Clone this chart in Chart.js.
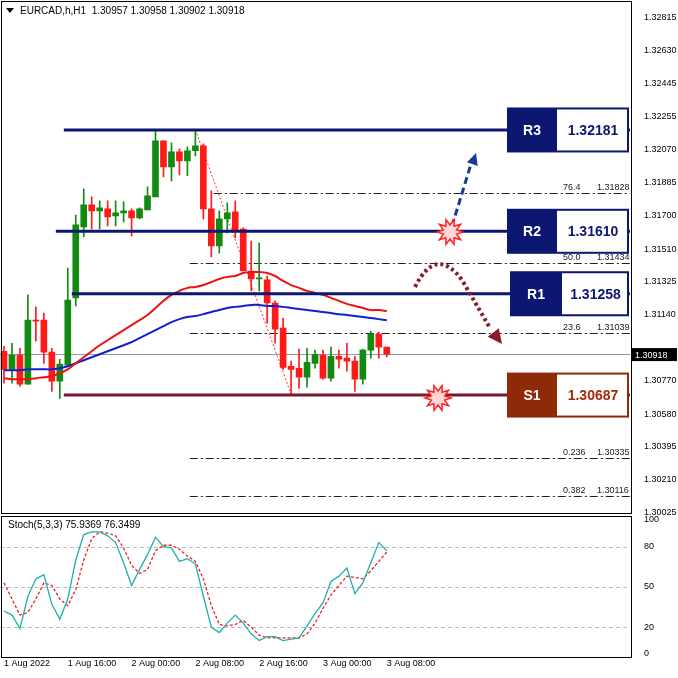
<!DOCTYPE html>
<html><head><meta charset="utf-8">
<script src="https://cdn.jsdelivr.net/npm/chart.js@4.4.1/dist/chart.umd.min.js"></script>
<style>
html,body{margin:0;padding:0;background:#fff;width:678px;height:678px;overflow:hidden;position:relative}
#w1{position:absolute;left:0;top:-6px;width:678px;height:531px}
#w2{position:absolute;left:0;top:507px;width:678px;height:166px}
#frame{position:absolute;left:1px;top:1px;width:629px;height:511px;border:1px solid #000;pointer-events:none}
#frame2{position:absolute;left:1px;top:516px;width:629px;height:140px;border:1px solid #000;pointer-events:none}
#gap{position:absolute;left:0;top:513px;width:632px;height:3px;background:#fff}
</style></head><body>
<div id="w1"><canvas id="c1" width="678" height="531"></canvas></div>
<div id="gap"></div>
<div id="w2"><canvas id="c2" width="678" height="166"></canvas></div>
<div id="frame"></div><div id="frame2"></div>
<script>
const opens=[1.30934,1.30832,1.30912,1.30748,1.31109,1.31109,1.30929,1.30765,1.30855,1.31235,1.31635,1.31759,1.31725,1.31736,1.31697,1.31714,1.31725,1.31685,1.31731,1.31804,1.32120,1.31973,1.32058,1.32007,1.32064,1.32092,1.31736,1.31527,1.31680,1.31719,1.31623,1.31386,1.31341,1.31336,1.31206,1.31064,1.30849,1.30838,1.30788,1.30866,1.30912,1.30782,1.30906,1.30895,1.30878,1.30776,1.30940,1.31030,1.30957];
const highs=[1.30962,1.30979,1.30951,1.31252,1.31184,1.31149,1.30951,1.30889,1.31403,1.31702,1.31849,1.31804,1.31781,1.31781,1.31781,1.31776,1.31736,1.31742,1.31860,1.32177,1.32120,1.32109,1.32075,1.32086,1.32182,1.32103,1.31838,1.31725,1.31770,1.31781,1.31629,1.31555,1.31543,1.31358,1.31218,1.31121,1.30878,1.30946,1.30951,1.30940,1.30940,1.30957,1.30940,1.30979,1.30906,1.30946,1.31047,1.31042,1.30958];
const lows=[1.30754,1.30754,1.30737,1.30748,1.30991,1.30866,1.30708,1.30668,1.30855,1.31189,1.31578,1.31623,1.31623,1.31640,1.31640,1.31663,1.31584,1.31680,1.31731,1.31804,1.31917,1.31894,1.31928,1.31923,1.32035,1.31680,1.31465,1.31488,1.31601,1.31572,1.31386,1.31274,1.31274,1.31092,1.30979,1.30832,1.30691,1.30725,1.30731,1.30838,1.30776,1.30765,1.30838,1.30821,1.30708,1.30748,1.30895,1.30895,1.30902];
const closes=[1.30832,1.30912,1.30748,1.31109,1.31104,1.30929,1.30765,1.30861,1.31223,1.31646,1.31759,1.31725,1.31742,1.31691,1.31714,1.31725,1.31685,1.31736,1.31810,1.32120,1.31973,1.32058,1.32007,1.32064,1.32092,1.31736,1.31527,1.31680,1.31714,1.31612,1.31386,1.31341,1.31347,1.31206,1.31058,1.30843,1.30832,1.30788,1.30872,1.30917,1.30782,1.30906,1.30889,1.30878,1.30776,1.30940,1.31030,1.30957,1.30918];
const maRed=[1.30782,1.30776,1.30776,1.30776,1.30782,1.30788,1.30793,1.30810,1.30832,1.30866,1.30900,1.30934,1.30968,1.30996,1.31025,1.31053,1.31081,1.31109,1.31138,1.31178,1.31218,1.31252,1.31274,1.31291,1.31296,1.31307,1.31324,1.31341,1.31353,1.31358,1.31375,1.31380,1.31380,1.31375,1.31358,1.31330,1.31307,1.31291,1.31274,1.31263,1.31252,1.31235,1.31218,1.31201,1.31189,1.31178,1.31166,1.31166,1.31161];
const maBlue=[1.30827,1.30827,1.30827,1.30832,1.30832,1.30832,1.30832,1.30838,1.30849,1.30866,1.30883,1.30900,1.30917,1.30934,1.30951,1.30968,1.30985,1.31008,1.31030,1.31053,1.31075,1.31098,1.31115,1.31127,1.31132,1.31143,1.31155,1.31166,1.31178,1.31184,1.31189,1.31195,1.31195,1.31189,1.31189,1.31184,1.31178,1.31172,1.31166,1.31161,1.31155,1.31149,1.31143,1.31138,1.31132,1.31127,1.31121,1.31115,1.31109];
const stochMain=[32,29,19,43,56,59,37,26,41,70,89,91,91,88,83,68,51,63,74,87,80,79,69,71,67,43,20,16,23,29,23,15,10,13,13,10,11,12,21,30,38,54,58,64,45,53,68,83,77];
const stochSignal=[53,41,29,31,41,53,51,41,36,48,70,86,91,90,88,79,66,60,63,77,81,81,78,73,69,56,36,22,21,22,25,20,14,12,12,12,12,12,15,23,34,44,51,58,57,56,62,69,76];
const timeLabels=["1 Aug 2022","1 Aug 16:00","2 Aug 00:00","2 Aug 08:00","2 Aug 16:00","3 Aug 00:00","3 Aug 08:00"];
const priceTicks=[1.32815,1.32630,1.32445,1.32255,1.32070,1.31885,1.31700,1.31510,1.31325,1.31140,1.30955,1.30770,1.30580,1.30395,1.30210,1.30025];
const stochTicks=[100,80,50,20,0];
const levelNames=["R3","R2","R1","S1"];
const levelValues=[1.32181,1.31610,1.31258,1.30687];
const levelStart=[7.5,6.5,8.5,7.5];
const fibNames=["76.4","50.0","23.6","0.236","0.382"];
const fibValues=[1.31828,1.31434,1.31039,1.30335,1.30116];
const fibStart=[26.3,23.3,23.3,23.3,23.3];
const lastPrice=1.30918;
const header="EURCAD,h,H1  1.30957 1.30958 1.30902 1.30918";

const N=79, OFF=6;
const labels=[];for(let i=0;i<N;i++){labels.push(i%8===0&&i/8<timeLabels.length?timeLabels[i/8]:"");}
const GREEN="#128a12",RED="#ff1a1a",NAVY="#0b1770",BROWN="#8e2a08";
const FONT="Liberation Sans";
const candleColors=opens.map((o,i)=>closes[i]>=o?GREEN:RED);
const wick=lows.map((l,i)=>[l,highs[i]]);
const body=opens.map((o,i)=>[o,closes[i]]);

function star(ctx,x,y){ctx.save();ctx.beginPath();const n=10;for(let i=0;i<2*n;i++){const r=i%2?7:13;const a=i*Math.PI/n;ctx.lineTo(x+r*Math.cos(a),y+r*Math.sin(a));}ctx.closePath();ctx.fillStyle="#ffd6d6";ctx.fill();ctx.strokeStyle="#ff2020";ctx.lineWidth=1.5;ctx.stroke();ctx.restore();}
function arrowHead(ctx,x1,y1,x2,y2,size,color){const a=Math.atan2(y2-y1,x2-x1);ctx.save();ctx.fillStyle=color;ctx.beginPath();ctx.moveTo(x2,y2);ctx.lineTo(x2-size*Math.cos(a-0.45),y2-size*Math.sin(a-0.45));ctx.lineTo(x2-size*Math.cos(a+0.45),y2-size*Math.sin(a+0.45));ctx.closePath();ctx.fill();ctx.restore();}

const overlay={id:'overlay',
 beforeDatasetsDraw(ch){const ctx=ch.ctx,ys=ch.scales.y,xs=ch.scales.x,ca=ch.chartArea;
  ctx.save();
  const py=Math.round(ys.getPixelForValue(lastPrice))+0.5;
  ctx.strokeStyle="#8a9aa8";ctx.lineWidth=1;ctx.beginPath();ctx.moveTo(ca.left,py);ctx.lineTo(ca.right,py);ctx.stroke();
  fibValues.forEach((v,i)=>{const y=Math.round(ys.getPixelForValue(v))+0.5;ctx.strokeStyle="#222";ctx.lineWidth=1;ctx.setLineDash([8,3,2,3]);ctx.beginPath();ctx.moveTo(xs.getPixelForValue(fibStart[i]),y);ctx.lineTo(ca.right,y);ctx.stroke();ctx.setLineDash([]);
   ctx.fillStyle="#222";ctx.font="9px "+FONT;ctx.textBaseline="bottom";ctx.textAlign="left";ctx.fillText(fibNames[i],563,y-1);ctx.fillText(fibValues[i].toFixed(5),597,y-1);});
  ctx.strokeStyle="#ff3030";ctx.lineWidth=1;ctx.setLineDash([2,2]);ctx.beginPath();ctx.moveTo(xs.getPixelForValue(24),ys.getPixelForValue(highs[24]));ctx.lineTo(xs.getPixelForValue(36),ys.getPixelForValue(lows[36]));ctx.stroke();ctx.setLineDash([]);
  ctx.restore();},
 afterDatasetsDraw(ch){const ctx=ch.ctx,ys=ch.scales.y,xs=ch.scales.x,ca=ch.chartArea;
  ctx.save();
  levelValues.forEach((v,i)=>{const y=ys.getPixelForValue(v);ctx.strokeStyle=i===3?"#7a1830":NAVY;ctx.lineWidth=3;ctx.beginPath();ctx.moveTo(xs.getPixelForValue(levelStart[i]),y);ctx.lineTo(ca.right,y);ctx.stroke();});
  ctx.save();ctx.translate(0,OFF);
  ctx.strokeStyle="#1a3a9a";ctx.lineWidth=3;ctx.setLineDash([7,4]);ctx.beginPath();ctx.moveTo(452,226);ctx.lineTo(471,164);ctx.stroke();ctx.setLineDash([]);arrowHead(ctx,452,226,476,153,13,"#1a3a9a");
  ctx.strokeStyle="#8b1a2a";ctx.lineWidth=4;ctx.setLineDash([3,3]);ctx.beginPath();ctx.moveTo(415,287);ctx.quadraticCurveTo(436,245,462,280);ctx.lineTo(490,328);ctx.stroke();ctx.setLineDash([]);arrowHead(ctx,480,315,502,344,16,"#8b1a2a");
  star(ctx,450,232);star(ctx,438,398);
  ctx.restore();
  levelValues.forEach((v,i)=>{const y=ys.getPixelForValue(v);const isS=i===3;const col=isS?BROWN:NAVY;const x0=(i===2?510:507),xm=(i===2?562:557),x1=629;const top=y-22.5,h=45;
   ctx.fillStyle=col;ctx.fillRect(x0,top,x1-x0,h);ctx.fillStyle="#fff";ctx.fillRect(xm,top+2,x1-xm-2,h-4);
   ctx.font="bold 14px "+FONT;ctx.textBaseline="middle";ctx.textAlign="center";ctx.fillStyle="#fff";ctx.fillText(levelNames[i],(x0+xm)/2,top+h/2+1);
   ctx.fillStyle=isS?"#a52a08":NAVY;ctx.fillText(v.toFixed(5),(xm+x1)/2,top+h/2+1);});
  const py=ys.getPixelForValue(lastPrice);ctx.fillStyle="#000";ctx.fillRect(632,py-6,45,13);ctx.fillStyle="#fff";ctx.font="9px "+FONT;ctx.textAlign="left";ctx.textBaseline="middle";ctx.fillText(lastPrice.toFixed(5),635,py+1);
  ctx.fillStyle="#000";ctx.beginPath();ctx.moveTo(6,8+OFF);ctx.lineTo(14,8+OFF);ctx.lineTo(10,13+OFF);ctx.closePath();ctx.fill();
  ctx.font="10px "+FONT;ctx.textBaseline="middle";ctx.fillText(header,20,11+OFF);
  ctx.restore();}};

new Chart(document.getElementById('c1'),{type:'bar',
 data:{labels,datasets:[
  {type:'line',data:maRed,borderColor:"#ee1111",borderWidth:2,pointRadius:0,tension:0.3,order:1},
  {type:'line',data:maBlue,borderColor:"#1020cc",borderWidth:2,pointRadius:0,tension:0.3,order:1},
  {data:wick,backgroundColor:candleColors,barThickness:1,grouped:false,order:3},
  {data:body,backgroundColor:candleColors,barThickness:6,grouped:false,minBarLength:1,order:2}]},
 options:{responsive:false,animation:false,events:[],
  layout:{padding:{top:3,bottom:0,left:0,right:0}},
  plugins:{legend:{display:false},tooltip:{enabled:false}},
  scales:{x:{display:false,offset:true},
   y:{position:'right',min:1.30019,max:1.32883,
    afterBuildTicks(s){s.ticks=priceTicks.map(v=>({value:v}));},
    afterFit(s){s.width=48;},
    grid:{display:false},border:{display:false},
    ticks:{autoSkip:false,padding:6,color:"#000",font:{family:FONT,size:9},callback:v=>Math.abs(v-lastPrice)<0.0005?"":v.toFixed(5)}}}},
 plugins:[overlay]});

const stochOverlay={id:'so',afterDraw(ch){const ctx=ch.ctx;ctx.save();ctx.fillStyle="#000";ctx.font="10px "+FONT;ctx.textBaseline="middle";ctx.fillText("Stoch(5,3,3) 75.9369 76.3499",8,18);ctx.restore();},
 beforeDatasetsDraw(ch){const ctx=ch.ctx,ys=ch.scales.y,ca=ch.chartArea;ctx.save();ctx.strokeStyle="#bbb";ctx.setLineDash([4,3]);ctx.lineWidth=1;[80,50,20].forEach(v=>{const y=Math.round(ys.getPixelForValue(v))+0.5;ctx.beginPath();ctx.moveTo(ca.left,y);ctx.lineTo(ca.right,y);ctx.stroke();});ctx.restore();}};
new Chart(document.getElementById('c2'),{type:'line',
 data:{labels,datasets:[
  {data:stochMain,borderColor:"#20b0a8",borderWidth:1.3,pointRadius:0,tension:0},
  {data:stochSignal,borderColor:"#ee2020",borderWidth:1.3,borderDash:[3,2],pointRadius:0,tension:0}]},
 options:{responsive:false,animation:false,events:[],
  layout:{padding:{top:3,bottom:0}},
  plugins:{legend:{display:false},tooltip:{enabled:false}},
  scales:{x:{offset:true,grid:{display:false,drawTicks:false},border:{display:false},afterFit(s){s.height=19;},
    ticks:{autoSkip:false,maxRotation:0,align:'start',padding:4,color:"#000",font:{family:FONT,size:9},callback:(v,i)=>labels[i]}},
   y:{position:'right',min:0,max:101,afterBuildTicks(s){s.ticks=stochTicks.map(v=>({value:v}));},afterFit(s){s.width=48;},
    grid:{display:false},border:{display:false},ticks:{autoSkip:false,padding:6,color:"#000",font:{family:FONT,size:9}}}}},
 plugins:[stochOverlay]});
</script></body></html>
